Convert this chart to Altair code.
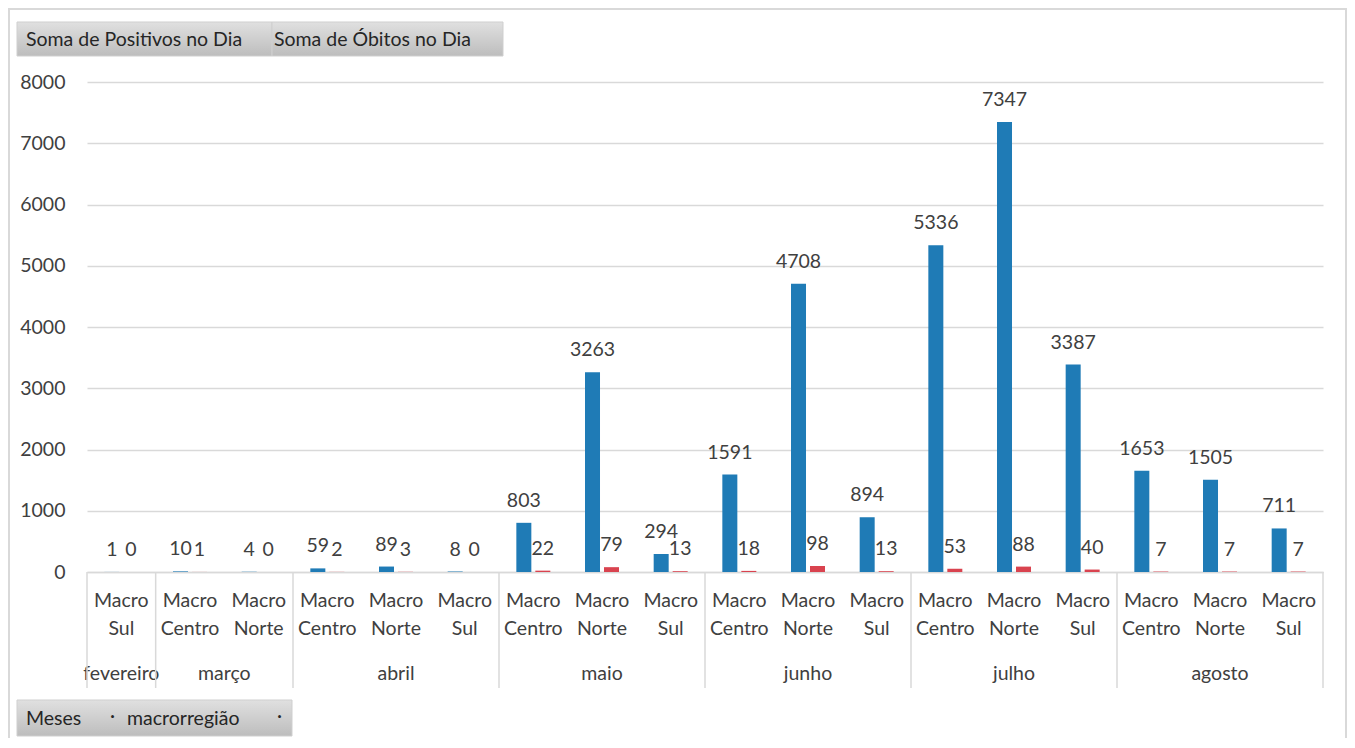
import altair as alt
import pandas as pd

# ---- data ----
months = ["fevereiro", "março", "março", "abril", "abril", "abril",
          "maio", "maio", "maio", "junho", "junho", "junho",
          "julho", "julho", "julho", "agosto", "agosto", "agosto"]
regions = ["Macro Sul", "Macro Centro", "Macro Norte",
           "Macro Centro", "Macro Norte", "Macro Sul",
           "Macro Centro", "Macro Norte", "Macro Sul",
           "Macro Centro", "Macro Norte", "Macro Sul",
           "Macro Centro", "Macro Norte", "Macro Sul",
           "Macro Centro", "Macro Norte", "Macro Sul"]
positivos = [1, 10, 4, 59, 89, 8, 803, 3263, 294, 1591, 4708, 894,
             5336, 7347, 3387, 1653, 1505, 711]
obitos = [0, 1, 0, 2, 3, 0, 22, 79, 13, 18, 98, 13, 53, 88, 40, 7, 7, 7]
series_names = ["Soma de Positivos no Dia", "Soma de Óbitos no Dia"]
y_ticks = [0, 1000, 2000, 3000, 4000, 5000, 6000, 7000, 8000]

FONT = "Lato"
FS = 19.5
TXT = "#404040"
GRID = "#d9d9d9"
BLUE = "#1f7bb6"
RED = "#d9434f"

keys = [f"{m}|{r}" for m, r in zip(months, regions)]
rows = []
for k, p, o in zip(keys, positivos, obitos):
    rows.append({"key": k, "serie": series_names[0], "valor": p})
    rows.append({"key": k, "serie": series_names[1], "valor": o})
df = pd.DataFrame(rows)

# month groups
month_order = []
for m in months:
    if m not in month_order:
        month_order.append(m)
mrows = []
for m in month_order:
    ks = [k for k in keys if k.split("|")[0] == m]
    n = len(ks)
    if n % 2 == 1:
        mrows.append({"month": m, "anchor": ks[n // 2], "even": False,
                      "first": ks[0], "last": ks[-1]})
    else:
        mrows.append({"month": m, "anchor": ks[n // 2 - 1], "even": True,
                      "first": ks[0], "last": ks[-1]})
mdf = pd.DataFrame(mrows)

W, H = 1236, 490

xscale = alt.Scale(domain=keys, paddingInner=0, paddingOuter=0)
xoff = alt.XOffset("serie:N", sort=series_names,
                   scale=alt.Scale(domain=series_names, paddingInner=0.21, paddingOuter=0.913))

xenc = alt.X("key:N", sort=keys, scale=xscale,
             axis=alt.Axis(title=None, labelAngle=0, ticks=False, grid=False,
                           domainColor=GRID, domainWidth=1.5,
                           labelExpr="split(split(datum.value, '|')[1], ' ')",
                           labelFont=FONT, labelFontSize=FS, labelColor=TXT,
                           labelLineHeight=28, labelBaseline="top",
                           labelPadding=19, labelOverlap=False))
yenc = alt.Y("valor:Q", scale=alt.Scale(domain=[0, 8000], nice=False),
             axis=alt.Axis(title=None, values=y_ticks, grid=True, gridColor=GRID,
                           gridWidth=1.5, domain=False, ticks=False, format="d",
                           labelFont=FONT, labelFontSize=FS, labelColor=TXT,
                           labelPadding=22))

color = alt.Color("serie:N", scale=alt.Scale(domain=series_names, range=[BLUE, RED]),
                  legend=None)

base = alt.Chart(df)
bars = base.mark_bar().encode(x=xenc, xOffset=xoff, y=yenc, color=color)
labels = base.mark_text(font=FONT, fontSize=FS, color=TXT, baseline="bottom", dy=-12).encode(
    x=alt.X("key:N", sort=keys, scale=xscale), xOffset=xoff,
    y=alt.Y("valor:Q"), text=alt.Text("valor:Q"))

mbase = alt.Chart(mdf)
month_odd = mbase.transform_filter("!datum.even").mark_text(
    font=FONT, fontSize=FS, color=TXT, baseline="middle").encode(
    x=alt.X("anchor:N", sort=keys, scale=xscale, bandPosition=0.5),
    y=alt.value(592), text="month:N")
month_even = mbase.transform_filter("datum.even").mark_text(
    font=FONT, fontSize=FS, color=TXT, baseline="middle").encode(
    x=alt.X("anchor:N", sort=keys, scale=xscale, bandPosition=1),
    y=alt.value(592), text="month:N")
sep_start = mbase.mark_rule(color=GRID, strokeWidth=1.5).encode(
    x=alt.X("first:N", sort=keys, scale=xscale, bandPosition=0),
    y=alt.value(H), y2=alt.value(H + 116))
sep_end = mbase.transform_filter("datum.month == 'agosto'").mark_rule(
    color=GRID, strokeWidth=1.5).encode(
    x=alt.X("last:N", sort=keys, scale=xscale, bandPosition=1),
    y=alt.value(H), y2=alt.value(H + 116))

# pivot-chart field buttons (decoration)
grad = alt.Gradient(gradient="linear", x1=0, y1=0, x2=0, y2=1,
                    stops=[alt.GradientStop(color="#e0e0e0", offset=0),
                           alt.GradientStop(color="#bdbdbd", offset=1)])
btn_df = pd.DataFrame({"x": [-70, 185, -70], "x2": [185, 416, 205],
                       "y": [-60, -60, 618], "y2": [-26, -26, 654]})
buttons = alt.Chart(btn_df).mark_rect(fill=grad, stroke="#cfcfcf", strokeWidth=1).encode(
    x=alt.X("x:Q", scale=None), x2="x2:Q", y=alt.Y("y:Q", scale=None), y2="y2:Q")
btxt_df = pd.DataFrame({"t": [series_names[0], series_names[1], "Meses", "·", "macrorregião", "·"],
                        "x": [-61, 187, -61, 23, 40, 190],
                        "y": [-42, -42, 637, 634, 637, 634]})
btxt = alt.Chart(btxt_df).mark_text(font=FONT, fontSize=FS, color="#262626",
                                    align="left", baseline="middle").encode(
    x=alt.X("x:Q", scale=None), y=alt.Y("y:Q", scale=None), text="t:N")
border = alt.Chart(pd.DataFrame({"a": [0]})).mark_rect(
    fill=None, stroke=GRID, strokeWidth=2).encode(
    x=alt.value(-78), x2=alt.value(W + 23), y=alt.value(-73), y2=alt.value(H + 200))

chart = alt.layer(border, buttons, btxt, bars, labels, month_odd, month_even,
                  sep_start, sep_end).properties(
    width=W, height=H,
    autosize=alt.AutoSizeParams(type="none"),
    padding={"left": 79, "top": 74, "right": 24, "bottom": 166},
).configure(background="white").configure_view(stroke=None)

chart.save("out.html", embed_options={"renderer": "svg", "actions": False})
